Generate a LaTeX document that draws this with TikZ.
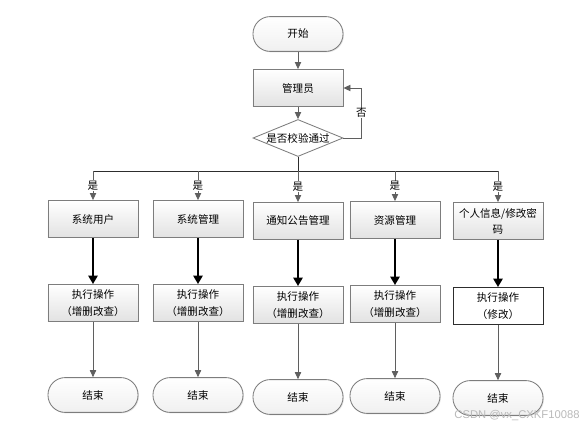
\documentclass[tikz,border=0pt]{standalone}
\usepackage{fontspec}
\newfontfamily\cjkfont{Noto Sans CJK SC}
\newfontfamily\wmfont{Liberation Sans}
\usetikzlibrary{shapes.geometric, arrows.meta, shadows}
\definecolor{bordergray}{RGB}{125,125,125}
\definecolor{linegray}{RGB}{95,95,95}
\definecolor{shadegray}{RGB}{226,226,226}
\definecolor{termgray}{RGB}{240,240,240}
\definecolor{darkline}{RGB}{45,45,45}
\definecolor{wmgray}{RGB}{185,185,185}
\tikzset{
  procbox/.style={rectangle, draw=bordergray, top color=white, bottom color=shadegray,
    minimum width=2.25cm, minimum height=0.925cm, align=center,
    font=\cjkfont\fontsize{7.5}{11.5}\selectfont, line width=0.6pt,
    drop shadow={opacity=0.25, shadow xshift=0.7pt, shadow yshift=-0.7pt}},
  plainbox/.style={rectangle, draw=darkline, fill=white,
    minimum width=2.25cm, minimum height=0.925cm, align=center,
    font=\cjkfont\fontsize{7.5}{11.5}\selectfont, line width=0.6pt},
  termnode/.style={rectangle, rounded corners=0.43cm, draw=bordergray,
    top color=white, bottom color=termgray,
    minimum width=2.25cm, minimum height=0.87cm,
    font=\cjkfont\fontsize{7.5}{9}\selectfont, line width=0.6pt,
    drop shadow={opacity=0.2, shadow xshift=0.7pt, shadow yshift=-0.7pt}},
  decision/.style={diamond, draw=bordergray, fill=white, aspect=2.4, inner sep=0pt,
    minimum width=2.25cm, minimum height=0.925cm,
    font=\cjkfont\fontsize{7.5}{9}\selectfont, line width=0.6pt},
  arrow/.style={-{Triangle[length=5pt,width=4.5pt]}, color=linegray, line width=0.6pt},
  boldarrow/.style={-{Triangle[length=6pt,width=6.5pt]}, color=black, line width=1.5pt},
  line/.style={color=darkline, line width=0.6pt},
  yeslabel/.style={fill=white, inner sep=0.6pt, text=black,
    font=\cjkfont\fontsize{7.5}{9}\selectfont}
}

\begin{document}
\begin{tikzpicture}[x=0.025cm, y=-0.025cm]
  \useasboundingbox (0,0) rectangle (580,429);

  % Top: start, admin, check
  \node[termnode] (start) at (298,34) {开始};
  \node[procbox]  (admin) at (298,88) {管理员};
  \node[decision] (check) at (298,138) {是否校验通过};
  \draw[arrow] (start) -- (admin);
  \draw[arrow] (admin) -- (check);
  \draw[arrow] (check.east) -- ++(18,0) |- node[yeslabel, pos=0.25] {否} (admin.east);

  % Modules
  \node[procbox] (user)   at (93,219)  {系统用户};
  \node[procbox] (sys)    at (198,219) {系统管理};
  \node[procbox] (notice) at (298,221) {通知公告管理};
  \node[procbox] (res)    at (395,220) {资源管理};
  \node[procbox] (info)   at (498,221) {个人信息/修改密\\码};

  % Split line
  \coordinate (split) at (298,171);
  \draw[line] (check.south) -- (split);
  \draw[line] (user |- split) -- (info |- split);
  \draw[arrow] (user |- split)   -- node[yeslabel, pos=0.5] {是} (user);
  \draw[arrow] (sys |- split)    -- node[yeslabel, pos=0.5] {是} (sys);
  \draw[arrow] (notice |- split) -- node[yeslabel, pos=0.5] {是} (notice);
  \draw[arrow] (res |- split)    -- node[yeslabel, pos=0.5] {是} (res);
  \draw[arrow] (info |- split)   -- node[yeslabel, pos=0.5] {是} (info);

  % Operations
  \node[procbox]  (op1) at (93,303)  {执行操作\\（增删改查）};
  \node[procbox]  (op2) at (198,303) {执行操作\\（增删改查）};
  \node[procbox]  (op3) at (298,305) {执行操作\\（增删改查）};
  \node[procbox]  (op4) at (395,304) {执行操作\\（增删改查）};
  \node[plainbox] (op5) at (498,306) {执行操作\\（修改）};
  \draw[boldarrow] (user)   -- (op1);
  \draw[boldarrow] (sys)    -- (op2);
  \draw[boldarrow] (notice) -- (op3);
  \draw[boldarrow] (res)    -- (op4);
  \draw[boldarrow] (info)   -- (op5);

  % Ends
  \node[termnode] (end1) at (93,395)  {结束};
  \node[termnode] (end2) at (198,395) {结束};
  \node[termnode] (end3) at (298,397) {结束};
  \node[termnode] (end4) at (395,396) {结束};
  \node[termnode] (end5) at (498,398) {结束};
  \draw[arrow] (op1) -- (end1);
  \draw[arrow] (op2) -- (end2);
  \draw[arrow] (op3) -- (end3);
  \draw[arrow] (op4) -- (end4);
  \draw[arrow] (op5) -- (end5);

  % Watermark
  \node[font=\wmfont\fontsize{8}{9}\selectfont, text=wmgray] (mark) at (517,416) {CSDN @vx\_CXKF10088};
\end{tikzpicture}
\end{document}
